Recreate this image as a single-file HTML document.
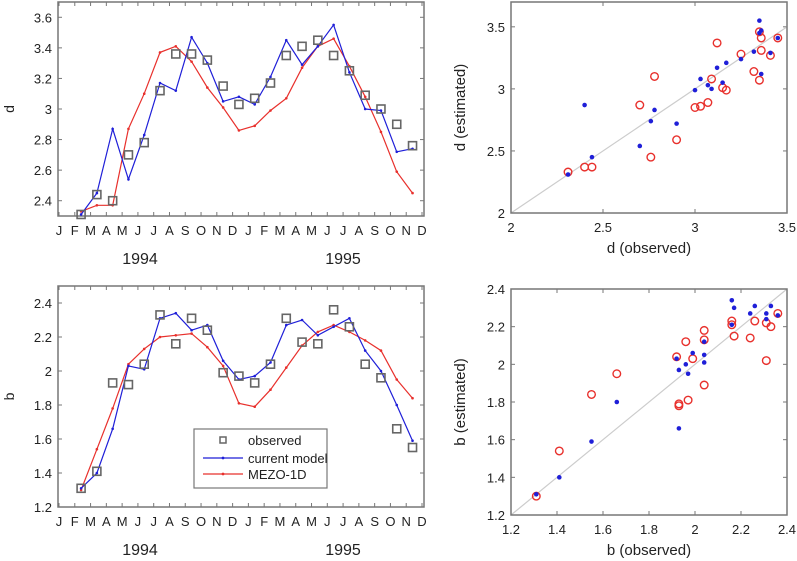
<!DOCTYPE html>
<html><head><meta charset="utf-8"><style>
body{margin:0;background:#fff;}
svg{display:block;font-family:"Liberation Sans",Arial,sans-serif;}
</style></head><body>
<svg id="fig" width="797" height="561" viewBox="0 0 797 561" xmlns="http://www.w3.org/2000/svg"></svg>
<script>
const months = ["J","F","M","A","M","J","J","A","S","O","N","D","J","F","M","A","M","J","J","A","S","O","N","D"];
const timeIdx = [1.4,2.4,3.4,4.4,5.4,6.4,7.4,8.4,9.4,10.4,11.4,12.4,13.4,14.4,15.4,16.4,17.4,18.4,19.4,20.4,21.4,22.4];
const dObserved = [2.31,2.44,2.40,2.70,2.78,3.12,3.36,3.36,3.32,3.15,3.03,3.07,3.17,3.35,3.41,3.45,3.35,3.25,3.09,3.00,2.90,2.76];
const dCurrent = [2.31,2.45,2.87,2.54,2.83,3.17,3.12,3.47,3.30,3.05,3.08,3.03,3.21,3.45,3.29,3.41,3.55,3.24,3.00,2.99,2.72,2.74];
const dMezo = [2.33,2.37,2.37,2.87,3.10,3.37,3.41,3.31,3.14,3.01,2.86,2.89,2.99,3.07,3.27,3.41,3.46,3.28,3.08,2.85,2.59,2.45];
const bObserved = [1.31,1.41,1.93,1.92,2.04,2.33,2.16,2.31,2.24,1.99,1.97,1.93,2.04,2.31,2.17,2.16,2.36,2.26,2.04,1.96,1.66,1.55];
const bCurrent = [1.31,1.40,1.66,2.03,2.01,2.31,2.34,2.24,2.27,2.06,1.95,1.97,2.05,2.27,2.30,2.21,2.26,2.31,2.12,2.00,1.80,1.59];
const bMezo = [1.30,1.54,1.78,2.04,2.13,2.20,2.21,2.22,2.14,2.03,1.81,1.79,1.89,2.02,2.15,2.23,2.27,2.23,2.18,2.12,1.95,1.84];
const dTicks = [2.4,2.6,2.8,3,3.2,3.4,3.6];
const bTicks = [1.2,1.4,1.6,1.8,2,2.2,2.4];
const dScatTicks = [2,2.5,3,3.5];
const bScatTicks = [1.2,1.4,1.6,1.8,2,2.2,2.4];

const NS="http://www.w3.org/2000/svg";
const svg=document.getElementById('fig');
function mk(tag,attrs,parent){const e=document.createElementNS(NS,tag);for(const k in attrs)e.setAttribute(k,attrs[k]);(parent||svg).appendChild(e);return e;}
function txt(s,x,y,anchor,size,parent){const t=mk('text',{x:x,y:y,'text-anchor':anchor||'middle','font-size':size||13,fill:'#222'},parent);t.textContent=s;return t;}
const BLUE='#1f1fd8', RED='#e8302c', GRAY='#777';

function timePanel(name,box,ylim,ticks,obs,cur,mezo,ylab){
  const g=mk('g',{});
  
  
  const xs=i=>59+i*(363/23);
  const ys=v=>box.b-(v-ylim[0])/(ylim[1]-ylim[0])*(box.b-box.t);
  months.forEach((m,i)=>{
    const x=xs(i);
    mk('line',{x1:x,y1:box.b,x2:x,y2:box.b-4,stroke:GRAY,'stroke-width':1},g);
    mk('line',{x1:x,y1:box.t,x2:x,y2:box.t+4,stroke:GRAY,'stroke-width':1},g);
    const t=txt(m,x,box.b+19,'middle',13,g);
    
    
  });
  ticks.forEach(v=>{
    const y=ys(v);
    mk('line',{x1:box.l,y1:y,x2:box.l+4,y2:y,stroke:GRAY,'stroke-width':1},g);
    mk('line',{x1:box.r,y1:y,x2:box.r-4,y2:y,stroke:GRAY,'stroke-width':1},g);
    const t=txt(String(v),box.l-6,y+5,'end',13,g);
    
    
  });
  mk('rect',{x:box.l,y:box.t,width:box.r-box.l,height:box.b-box.t,fill:'none',stroke:GRAY,'stroke-width':1.5},g);
  const yl=txt(ylab,14,(box.t+box.b)/2,'middle',14,g);
  yl.setAttribute('transform',`rotate(-90 14 ${(box.t+box.b)/2})`);
  
  
  const y1=txt('1994',140,box.b+48,'middle',16,g);
  
  
  const y2=txt('1995',343,box.b+48,'middle',16,g);
  
  
  [[mezo,RED,'mezo-1d-line'],[cur,BLUE,'current-model-line']].forEach(([arr,c,nm])=>{
    const pts=arr.map((v,i)=>xs(timeIdx[i]).toFixed(1)+','+ys(v).toFixed(1)).join(' ');
    const pl=mk('polyline',{points:pts,fill:'none',stroke:c,'stroke-width':1.2},g);
    
    
    arr.forEach((v,i)=>{
      const d=mk('circle',{cx:xs(timeIdx[i]),cy:ys(v),r:1.3,fill:c},g);
      
      
    });
  });
  obs.forEach((v,i)=>{
    const r=mk('rect',{x:xs(timeIdx[i])-4,y:ys(v)-4,width:8,height:8,fill:'none',stroke:'#666','stroke-width':1.6},g);
    
    
  });
}

function scatPanel(name,box,lim,ticks,obs,cur,mezo,xlab,ylab){
  const g=mk('g',{});
  
  
  const xs=v=>box.l+(v-lim.x[0])/(lim.x[1]-lim.x[0])*(box.r-box.l);
  const ys=v=>box.b-(v-lim.y[0])/(lim.y[1]-lim.y[0])*(box.b-box.t);
  ticks.forEach(v=>{
    const x=xs(v),y=ys(v);
    mk('line',{x1:x,y1:box.b,x2:x,y2:box.b-4,stroke:GRAY},g);
    mk('line',{x1:x,y1:box.t,x2:x,y2:box.t+4,stroke:GRAY},g);
    mk('line',{x1:box.l,y1:y,x2:box.l+4,y2:y,stroke:GRAY},g);
    mk('line',{x1:box.r,y1:y,x2:box.r-4,y2:y,stroke:GRAY},g);
    const tx=txt(String(v),x,box.b+19,'middle',13,g);
    
    
    const ty=txt(String(v),box.l-6,y+5,'end',13,g);
    
    
  });
  const lo=Math.max(lim.x[0],lim.y[0]),hi=Math.min(lim.x[1],lim.y[1]);
  const diag=mk('line',{x1:xs(lo),y1:ys(lo),x2:xs(hi),y2:ys(hi),stroke:'#ccc','stroke-width':1.2},g);
  
  
  mk('rect',{x:box.l,y:box.t,width:box.r-box.l,height:box.b-box.t,fill:'none',stroke:GRAY,'stroke-width':1.5},g);
  const xt=txt(xlab,(box.l+box.r)/2,box.b+40,'middle',15,g);
  
  
  const cy=(box.t+box.b)/2;
  const yt=txt(ylab,465,cy,'middle',15,g);
  yt.setAttribute('transform',`rotate(-90 465 ${cy})`);
  
  
  obs.forEach((o,i)=>{
    const c=mk('circle',{cx:xs(o),cy:ys(mezo[i]),r:3.8,fill:'none',stroke:RED,'stroke-width':1.4},g);
    
    
  });
  obs.forEach((o,i)=>{
    const c=mk('circle',{cx:xs(o),cy:ys(cur[i]),r:2.3,fill:BLUE},g);
    
    
  });
}

timePanel('d-time-series',{l:58,r:424,t:2,b:216},[2.3,3.7],dTicks,dObserved,dCurrent,dMezo,'d');
timePanel('b-time-series',{l:58,r:424,t:286,b:507},[1.2,2.5],bTicks,bObserved,bCurrent,bMezo,'b');
scatPanel('d-scatter',{l:511,r:787,t:2,b:213},{x:[2,3.5],y:[2,3.7]},dScatTicks,dObserved,dCurrent,dMezo,'d (observed)','d (estimated)');
scatPanel('b-scatter',{l:511,r:787,t:289,b:515},{x:[1.2,2.4],y:[1.2,2.4]},bScatTicks,bObserved,bCurrent,bMezo,'b (observed)','b (estimated)');

const lg=mk('g',{});


mk('rect',{x:194,y:429,width:133,height:59,fill:'#fff',stroke:'#777','stroke-width':1.2},lg);
mk('rect',{x:220,y:437,width:6,height:6,fill:'none',stroke:'#666','stroke-width':1.5},lg);
const l1=txt('observed',248,445,'start',13,lg);


mk('line',{x1:203,y1:458,x2:243,y2:458,stroke:BLUE,'stroke-width':1.2},lg);
mk('circle',{cx:223,cy:458,r:1.4,fill:BLUE},lg);
const l2=txt('current model',248,463,'start',13,lg);


mk('line',{x1:203,y1:474,x2:243,y2:474,stroke:RED,'stroke-width':1.2},lg);
mk('circle',{cx:223,cy:474,r:1.4,fill:RED},lg);
const l3=txt('MEZO-1D',248,479,'start',13,lg);


</script>
</body></html>
